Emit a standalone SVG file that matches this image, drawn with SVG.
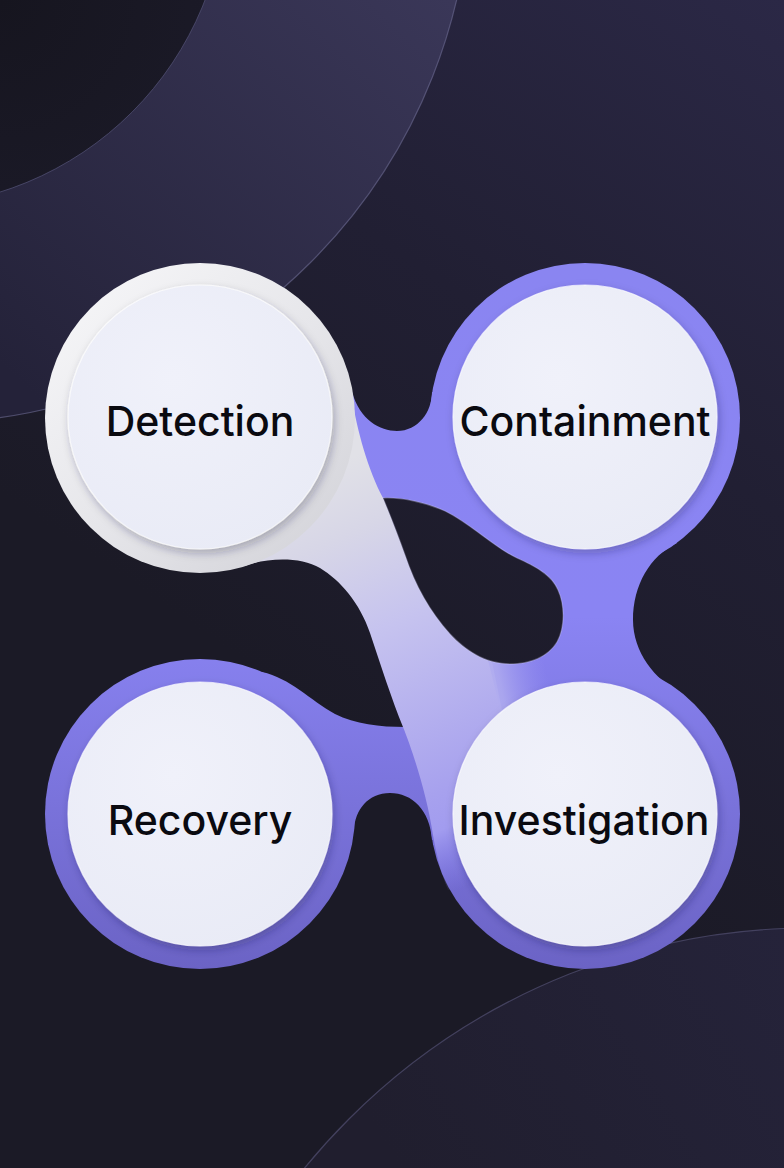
<svg xmlns="http://www.w3.org/2000/svg" width="784" height="1168" viewBox="0 0 784 1168">
  <defs>
    <linearGradient id="bgGrad" gradientUnits="userSpaceOnUse" x1="784" y1="0" x2="300" y2="700">
      <stop offset="0" stop-color="#2b2846"/>
      <stop offset="0.5" stop-color="#211f33"/>
      <stop offset="1" stop-color="#1b1a26"/>
    </linearGradient>
    <linearGradient id="bigArcGrad" gradientUnits="userSpaceOnUse" x1="450" y1="0" x2="60" y2="420">
      <stop offset="0" stop-color="#3a3758"/>
      <stop offset="1" stop-color="#242239"/>
    </linearGradient>
    <radialGradient id="smallArcGrad" gradientUnits="userSpaceOnUse" cx="0" cy="0" r="330">
      <stop offset="0" stop-color="#16151f"/>
      <stop offset="1" stop-color="#1d1c2b"/>
    </radialGradient>
    <linearGradient id="brGrad" gradientUnits="userSpaceOnUse" x1="784" y1="930" x2="400" y2="1168">
      <stop offset="0" stop-color="#25233a"/>
      <stop offset="1" stop-color="#201e2e"/>
    </linearGradient>
    <linearGradient id="purpleGrad" gradientUnits="userSpaceOnUse" x1="0" y1="263" x2="0" y2="970">
      <stop offset="0" stop-color="#8a85f1"/>
      <stop offset="0.5" stop-color="#8a84f3"/>
      <stop offset="1" stop-color="#6b63c5"/>
    </linearGradient>
    <linearGradient id="bandGrad" gradientUnits="userSpaceOnUse" x1="300" y1="480" x2="480" y2="880">
      <stop offset="0" stop-color="#e1e1e7"/>
      <stop offset="0.16" stop-color="#d7d6e7"/>
      <stop offset="0.385" stop-color="#c6c3ef"/>
      <stop offset="0.78" stop-color="#a7a1ee"/>
      <stop offset="0.86" stop-color="#a29cef" stop-opacity="1"/>
      <stop offset="1" stop-color="#8a84f0" stop-opacity="0"/>
    </linearGradient>
    <linearGradient id="softGrad" gradientUnits="userSpaceOnUse" x1="486" y1="692" x2="548" y2="679">
      <stop offset="0" stop-color="#b0acef" stop-opacity="1"/>
      <stop offset="0.25" stop-color="#b0acef" stop-opacity="0.85"/>
      <stop offset="1" stop-color="#9a95f1" stop-opacity="0"/>
    </linearGradient>
    <linearGradient id="detRing" gradientUnits="userSpaceOnUse" x1="80" y1="290" x2="330" y2="560">
      <stop offset="0" stop-color="#f5f5f7"/>
      <stop offset="0.5" stop-color="#e6e6ea"/>
      <stop offset="1" stop-color="#d3d3d9"/>
    </linearGradient>
    <radialGradient id="innerGrad" cx="0.4" cy="0.35" r="0.7">
      <stop offset="0" stop-color="#f0f1fa"/>
      <stop offset="1" stop-color="#e9ebf6"/>
    </radialGradient>
    <filter id="sh" x="-20%" y="-20%" width="140%" height="140%">
      <feDropShadow dx="2" dy="4" stdDeviation="4" flood-color="#1a1840" flood-opacity="0.28"/>
    </filter>
    <style>
      .ring { fill: url(#purpleGrad); }
      .inner { fill: url(#innerGrad); stroke: #ffffff; stroke-opacity: 0.7; stroke-width: 1.2; filter: url(#sh); }
      .label { font-family: Inter, "Noto Sans", "DejaVu Sans", sans-serif; font-size: 41px; font-weight: 500; fill: #0a0a10; text-anchor: middle; }
    </style>
  </defs>

  <!-- background -->
  <rect x="0" y="0" width="784" height="1168" fill="url(#bgGrad)"/>
  <circle cx="-77" cy="-125" r="548" fill="url(#bigArcGrad)" stroke="#6e6c94" stroke-opacity="0.6" stroke-width="1.2"/>
  <circle cx="-97" cy="-117" r="324" fill="url(#smallArcGrad)" stroke="#4f4d70" stroke-opacity="0.8" stroke-width="1"/>
  <circle cx="810" cy="1580" r="652" fill="url(#brGrad)" stroke="#4c4a6a" stroke-opacity="0.8" stroke-width="1.2"/>

  <!-- purple rings of nodes -->
  <g id="rings">
    <circle class="ring" cx="585" cy="418" r="155"/>
    <circle class="ring" cx="200" cy="814" r="155"/>
    <circle class="ring" cx="585" cy="814" r="155"/>
  </g>

  <!-- connectors -->
  <g id="connectors">
    <path class="ring" d="M 200,418 L 352,392 C 360,420 380,431 397,431 C 418,431 432,412 432,392 L 585,418 L 677,543 C 650,556 633,585 633,620 C 633,652 655,680 680,692 L 585,814 L 432,840 C 430,810 412,793 390,793 C 368,793 355,810 354,830 L 200,814 L 262,672 C 290,678 310,700 335,714 C 355,724 380,727 405,727 L 395,620 L 372,520 Z"/>
    <path id="band" fill="url(#bandGrad)" d="M 300,400 L 352,398 C 357,430 368,470 383,498 L 470,600 L 492,662 L 505,725 L 478,890 L 448,890 C 440,870 436,852 433,835 C 427,795 413,752 403,727 C 392,700 380,663 370,633 C 360,603 340,580 320,568 C 300,556 265,558 245,566 L 230,540 Z"/>
    <path id="band-soft" fill="url(#softGrad)" d="M 470,620 L 488,660 L 498,700 L 504,740 L 560,730 L 570,650 Z"/>
    <path id="hole" fill="url(#bgGrad)" stroke="#d9d7ff" stroke-opacity="0.3" stroke-width="1.3" d="M 383,498 C 400,497 425,502 445,511 C 470,523 495,548 517,558 C 535,566 552,575 558,590 C 565,605 565,628 557,642 C 548,657 530,664 510,664 C 485,664 465,650 450,634 C 430,612 415,585 405,555 C 398,535 390,515 383,498 Z"/>
  </g>

  <g id="node-detection">
    <circle cx="200" cy="418" r="155" fill="url(#detRing)"/>
    <circle class="inner" cx="200" cy="417" r="132"/>
    <text class="label" x="200" y="436">Detection</text>
  </g>
  <g id="node-containment">
    <circle class="inner" cx="585" cy="417" r="132"/>
    <text class="label" x="585" y="436">Containment</text>
  </g>
  <g id="node-recovery">
    <circle class="inner" cx="200" cy="814" r="132"/>
    <text class="label" x="200" y="835">Recovery</text>
  </g>
  <g id="node-investigation">
    <circle class="inner" cx="585" cy="814" r="132"/>
    <text class="label" x="584" y="835">Investigation</text>
  </g>
</svg>
